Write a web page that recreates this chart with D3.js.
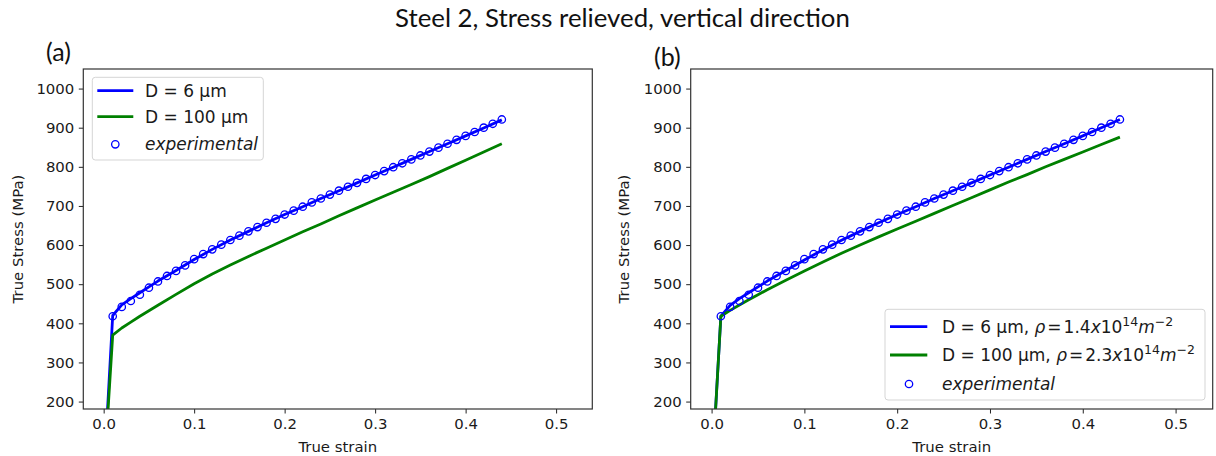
<!DOCTYPE html>
<html><head><meta charset="utf-8">
<script src="https://cdn.jsdelivr.net/npm/d3@7"></script>
<style>
html,body{margin:0;padding:0;background:#fff;}
svg text{font-family:"DejaVu Sans",sans-serif;}
</style></head>
<body>
<svg id="c" width="1216" height="456"></svg>
<script>
// ---------- data ----------
const strainExp = [0.01,0.02,0.03,0.04,0.05,0.06,0.07,0.08,0.09,0.10,
  0.11,0.12,0.13,0.14,0.15,0.16,0.17,0.18,0.19,0.20,
  0.21,0.22,0.23,0.24,0.25,0.26,0.27,0.28,0.29,0.30,
  0.31,0.32,0.33,0.34,0.35,0.36,0.37,0.38,0.39,0.40,
  0.41,0.42,0.43,0.44];
const stressExp = [418,442,457,473,491,507,521,534,548,564,
  577,589,601,613,624,635,646,657,667,678,
  688,698,709,719,729,739,749,759,769,779,
  789,799,809,819,829,839,849,859,869,879,
  889,900,910,921];
const strainModel = [0,0.01,0.02,0.03,0.04,0.05,0.06,0.08,0.10,0.12,0.14,0.16,0.18,0.20,
  0.22,0.24,0.26,0.28,0.30,0.32,0.34,0.36,0.38,0.40,0.42,0.44];
const leftD6   = [0,420,447,463,478,493,508,535,563,589,613,635,657,678,698,719,739,759,779,799,819,839,859,879,899,920];
const leftD100 = [0,370,388,403,418,432,446,474,501,526,549,571,592,613,634,654,675,695,715,735,755,775,796,817,838,859];
const rightD6   = [0,418,446,463,478,493,508,535,562,588,612,635,657,678,698,719,739,759,779,799,819,839,859,879,900,921];
const rightD100 = [0,418,433,447,460,473,486,510,534,557,579,600,621,641,661,681,701,721,741,761,780,800,819,838,857,876];
const xTicks = [0,0.1,0.2,0.3,0.4,0.5];
const yTicks = [200,300,400,500,600,700,800,900,1000];
const xDomain = [-0.0225, 0.54];
const yDomain = [181, 1050];
const titleText = "Steel 2, Stress relieved, vertical direction";
const xLabel = "True strain";
const yLabel = "True Stress (MPa)";

const BLUE = "#0000ff", GREEN = "#008000";
const svg = d3.select("#c");
svg.append("rect").attr("width",1216).attr("height",456).attr("fill","#fff");

// title
const title = svg.append("text").attr("x",622.5).attr("y",27).attr("text-anchor","middle")
  .style("font-family","Lato, 'Open Sans', sans-serif").style("font-size","22px").attr("fill","#111").text(titleText);
{
  const w = title.node().getComputedTextLength();
  title.style("font-size",(22*455/w).toFixed(2)+"px");
}

const panels = [
  {id:"a", label:"(a)", lx:46, ly:61, x0:83.3, x1:592.3, y0:69, y1:409, d6:leftD6, d100:leftD100, ylabX:17.5, legend:"left"},
  {id:"b", label:"(b)", lx:654, ly:66, x0:690.7, x1:1212.7, y0:69, y1:409, d6:rightD6, d100:rightD100, ylabX:624, legend:"right"}
];
const TF = "14.9px", LF = "17px";

panels.forEach(p => {
  const x = d3.scaleLinear().domain(xDomain).range([p.x0,p.x1]);
  const y = d3.scaleLinear().domain(yDomain).range([p.y1,p.y0]);
  const g = svg.append("g");

  svg.append("text").attr("x",p.lx).attr("y",p.ly)
    .style("font-family","Lato, 'Open Sans', sans-serif").style("font-size","25px").attr("fill","#111").text(p.label);

  const cid = "clip-"+p.id;
  svg.append("clipPath").attr("id",cid).append("rect")
    .attr("x",p.x0).attr("y",p.y0).attr("width",p.x1-p.x0).attr("height",p.y1-p.y0);

  const xAxis = d3.axisBottom(x).tickValues(xTicks).tickFormat(d3.format(".1f")).tickSize(4.5).tickPadding(5);
  const yAxis = d3.axisLeft(y).tickValues(yTicks).tickFormat(d3.format("d")).tickSize(4.5).tickPadding(4.5);
  const gx = g.append("g").attr("transform",`translate(0,${p.y1})`).call(xAxis);
  const gy = g.append("g").attr("transform",`translate(${p.x0},0)`).call(yAxis);
  [gx,gy].forEach(a=>{
    a.select(".domain").remove();
    a.selectAll(".tick line").attr("stroke","#222").attr("stroke-width",1);
    a.selectAll(".tick text").attr("fill","#1a1a1a").style("font-size",TF).style("font-family","'DejaVu Sans',sans-serif");
  });

  const cl = g.append("g").attr("clip-path",`url(#${cid})`);
  const line = d3.line().x((d,i)=>x(strainModel[i])).y(d=>y(d));
  cl.append("path").datum(p.d6).attr("d",line).attr("fill","none").attr("stroke",BLUE).attr("stroke-width",2.8).attr("stroke-linejoin","round");
  cl.append("path").datum(p.d100).attr("d",line).attr("fill","none").attr("stroke",GREEN).attr("stroke-width",2.8).attr("stroke-linejoin","round");
  cl.selectAll("circle.exp").data(stressExp).enter().append("circle")
    .attr("cx",(d,i)=>x(strainExp[i])).attr("cy",d=>y(d)).attr("r",3.7)
    .attr("fill","none").attr("stroke",BLUE).attr("stroke-width",1.3);

  g.append("rect").attr("x",p.x0).attr("y",p.y0).attr("width",p.x1-p.x0).attr("height",p.y1-p.y0)
    .attr("fill","none").attr("stroke","#333").attr("stroke-width",1.2);

  g.append("text").attr("x",(p.x0+p.x1)/2).attr("y",451.5).attr("text-anchor","middle")
    .style("font-size",TF).attr("fill","#1a1a1a").text(xLabel);
  g.append("text").attr("transform",`translate(${p.ylabX+5},${(p.y0+p.y1)/2}) rotate(-90)`).attr("text-anchor","middle")
    .style("font-size",TF).attr("fill","#1a1a1a").text(yLabel);

  const lg = g.append("g");
  if (p.legend === "left") {
    lg.append("rect").attr("x",92.3).attr("y",77.3).attr("width",171).attr("height",82.7).attr("rx",3)
      .attr("fill","#fff").attr("fill-opacity",0.8).attr("stroke","#d5d5d5");
    const rows = [90.7,116.7,144.3];
    lg.append("line").attr("x1",97.3).attr("x2",133.3).attr("y1",rows[0]).attr("y2",rows[0]).attr("stroke",BLUE).attr("stroke-width",2.8);
    lg.append("line").attr("x1",97.3).attr("x2",133.3).attr("y1",rows[1]).attr("y2",rows[1]).attr("stroke",GREEN).attr("stroke-width",2.8);
    lg.append("circle").attr("cx",115.3).attr("cy",rows[2]).attr("r",3.7).attr("fill","none").attr("stroke",BLUE).attr("stroke-width",1.3);
    const tx = 145;
    lg.append("text").attr("x",tx).attr("y",rows[0]+6).style("font-size",LF).attr("fill","#1a1a1a").text("D = 6 µm");
    lg.append("text").attr("x",tx).attr("y",rows[1]+6).style("font-size",LF).attr("fill","#1a1a1a").text("D = 100 µm");
    lg.append("text").attr("x",tx).attr("y",rows[2]+6).style("font-size",LF).style("font-style","italic").attr("fill","#1a1a1a").text("experimental");
  } else {
    lg.append("rect").attr("x",885).attr("y",309.3).attr("width",320).attr("height",90.7).attr("rx",3)
      .attr("fill","#fff").attr("fill-opacity",0.8).attr("stroke","#d5d5d5");
    const rows = [326.7,355,384];
    lg.append("line").attr("x1",890).attr("x2",927.3).attr("y1",rows[0]).attr("y2",rows[0]).attr("stroke",BLUE).attr("stroke-width",2.8);
    lg.append("line").attr("x1",890).attr("x2",927.3).attr("y1",rows[1]).attr("y2",rows[1]).attr("stroke",GREEN).attr("stroke-width",2.8);
    lg.append("circle").attr("cx",909).attr("cy",rows[2]).attr("r",3.7).attr("fill","none").attr("stroke",BLUE).attr("stroke-width",1.3);
    const tx = 942;
    const mk = (yy, dtxt, num) => {
      const t = lg.append("text").attr("x",tx).attr("y",yy+6).style("font-size",LF).attr("fill","#1a1a1a");
      t.append("tspan").text(dtxt + ", ");
      t.append("tspan").style("font-style","italic").text("ρ");
      t.append("tspan").attr("dx",2).text("=");
      t.append("tspan").attr("dx",2).text(num);
      t.append("tspan").style("font-style","italic").text("x");
      t.append("tspan").text("10");
      t.append("tspan").attr("dy",-7).style("font-size","12.5px").text("14");
      t.append("tspan").attr("dy",7).style("font-style","italic").text("m");
      t.append("tspan").attr("dy",-7).style("font-size","12.5px").text("−2");
    };
    mk(rows[0], "D = 6 µm", "1.4");
    mk(rows[1], "D = 100 µm", "2.3");
    lg.append("text").attr("x",tx).attr("y",rows[2]+6).style("font-size",LF).style("font-style","italic").attr("fill","#1a1a1a").text("experimental");
  }
});
</script>
</body></html>
